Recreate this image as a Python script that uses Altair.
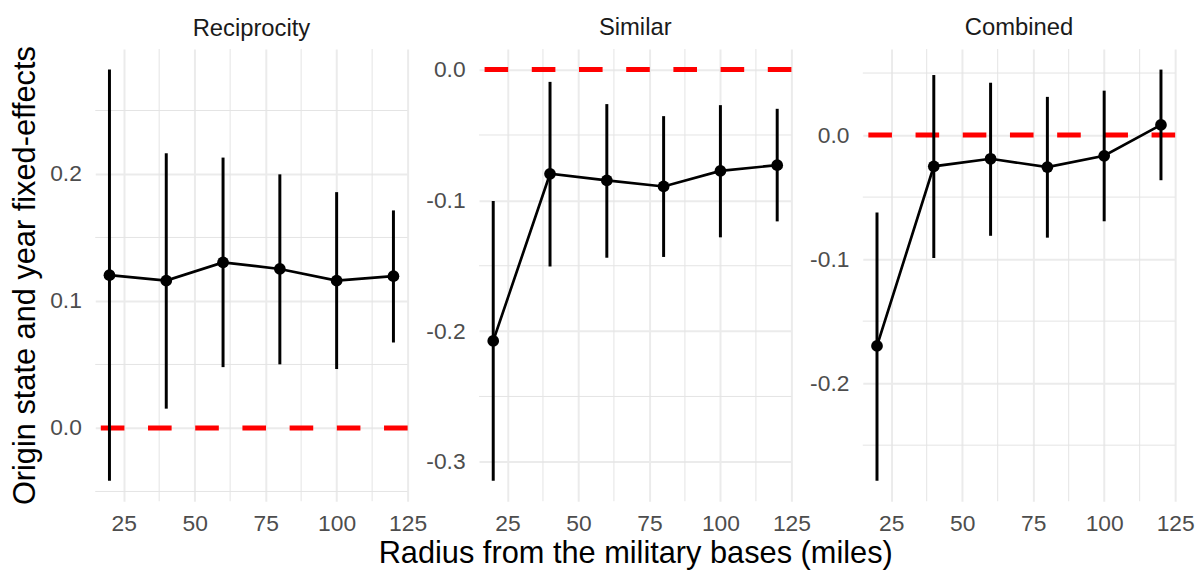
import altair as alt
import pandas as pd

# ---- data ----
radius = [20, 40, 60, 80, 100, 120]

recip_est = [0.1203, 0.1160, 0.1304, 0.1252, 0.1160, 0.1195]
recip_lo = [-0.0415, 0.0152, 0.0479, 0.0501, 0.0464, 0.0673]
recip_hi = [0.2822, 0.2163, 0.2129, 0.1997, 0.1857, 0.1713]

sim_est = [-0.2075, -0.0797, -0.0847, -0.0894, -0.0775, -0.0731]
sim_lo = [-0.3144, -0.1506, -0.1439, -0.1433, -0.1283, -0.1161]
sim_hi = [-0.1006, -0.0094, -0.0264, -0.0356, -0.0272, -0.0300]

comb_est = [-0.1700, -0.0252, -0.0191, -0.0258, -0.0167, 0.0082]
comb_lo = [-0.2786, -0.0991, -0.0812, -0.0827, -0.0695, -0.0364]
comb_hi = [-0.0625, 0.0484, 0.0422, 0.0308, 0.0358, 0.0528]

panel_names = ["Reciprocity", "Similar", "Combined"]

x_ticks = [25, 50, 75, 100, 125]
x_minor = [37.5, 62.5, 87.5, 112.5]

recip_ticks = [0.0, 0.1, 0.2]
recip_minor = [-0.05, 0.05, 0.15, 0.25]
sim_ticks = [-0.3, -0.2, -0.1, 0.0]
sim_minor = [-0.25, -0.15, -0.05]
comb_ticks = [-0.2, -0.1, 0.0]
comb_minor = [-0.25, -0.15, -0.05, 0.05]

ref_line = [0.0]

y_title = "Origin state and year fixed-effects"
x_title = "Radius from the military bases (miles)"

FONT = "Liberation Sans"
GRID = "#EBEBEB"
GRID_MINOR = "#E4E4E4"
PW, PH = 315, 456


def expand(lo, hi, mult=0.05):
    r = hi - lo
    return [lo - mult * r, hi + mult * r]


x_domain = expand(min(radius), max(radius))


def panel(name, est, lo, hi, ticks, minor, show_y_title, show_x_title, title_offset):
    df = pd.DataFrame({"radius": radius, "est": est, "lo": lo, "hi": hi})
    y_domain = expand(min(min(lo), min(ref_line)), max(max(hi), max(ref_line)))

    xs = alt.Scale(domain=x_domain, nice=False, zero=False)
    ys = alt.Scale(domain=y_domain, nice=False, zero=False)

    x_axis = alt.Axis(
        values=x_ticks, grid=True, gridColor=GRID, gridWidth=2,
        ticks=False, domain=False, labelFlush=False, labelOverlap=False,
        labelFontSize=23, labelColor="#4D4D4D", labelFont=FONT, labelPadding=12,
        titleFontSize=31, titleFont=FONT, titleColor="#000000",
        titleFontWeight="normal", titlePadding=3,
    )
    y_kwargs = dict(
        values=ticks, grid=True, gridColor=GRID, gridWidth=2,
        ticks=False, domain=False, labelFlush=False, labelOverlap=False,
        labelFontSize=23, labelColor="#4D4D4D", labelFont=FONT, labelPadding=14,
        labelExpr="replace(format(datum.value, '.1f'), '\u2212', '-')",
        titleFontSize=31, titleFont=FONT, titleColor="#000000",
        titleFontWeight="normal",
    )
    if show_y_title:
        y_kwargs.update(minExtent=46, maxExtent=46, titlePadding=15,
                        titleBaseline="alphabetic")
    else:
        y_kwargs.update(minExtent=58, maxExtent=58)
    y_axis = alt.Axis(**y_kwargs)

    xt = x_title if show_x_title else ""
    yt = y_title if show_y_title else ""

    def X(field):
        return alt.X(field, type="quantitative", scale=xs, axis=x_axis, title=xt)

    def Y(field):
        return alt.Y(field, type="quantitative", scale=ys, axis=y_axis, title=yt)

    minor_x = alt.Chart(pd.DataFrame({"v": x_minor})).mark_rule(
        color=GRID_MINOR, strokeWidth=1).encode(x=X("v"))
    minor_y = alt.Chart(pd.DataFrame({"v": minor})).mark_rule(
        color=GRID_MINOR, strokeWidth=1).encode(y=Y("v"))
    hline = alt.Chart(pd.DataFrame({"v": ref_line})).mark_rule(
        color="#FF0000", strokeWidth=5, strokeDash=[23.8, 23.8]).encode(y=Y("v"))
    bars = alt.Chart(df).mark_rule(color="black", strokeWidth=3).encode(
        x=X("radius"), y=Y("lo"), y2="hi")
    line = alt.Chart(df).mark_line(color="black", strokeWidth=2.7).encode(
        x=X("radius"), y=Y("est"))
    pts = alt.Chart(df).mark_circle(color="black", size=140, opacity=1).encode(
        x=X("radius"), y=Y("est"))

    return alt.layer(minor_x, minor_y, hline, bars, line, pts).properties(
        width=PW, height=PH,
        title=alt.TitleParams(
            text=name, fontSize=24, font=FONT, color="#1A1A1A",
            fontWeight="normal", anchor="middle", baseline="alphabetic",
            offset=title_offset,
        ),
    )


p1 = panel(panel_names[0], recip_est, recip_lo, recip_hi, recip_ticks, recip_minor, True, False, -14)
p2 = panel(panel_names[1], sim_est, sim_lo, sim_hi, sim_ticks, sim_minor, False, True, -10)
p3 = panel(panel_names[2], comb_est, comb_lo, comb_hi, comb_ticks, comb_minor, False, False, -10)

chart = alt.hconcat(p1, p2, p3, spacing=72, bounds="flush").properties(
    padding={"left": 2, "top": 5, "right": 0, "bottom": 0},
    background="white",
).configure_view(stroke=None)

chart.save("out.html", embed_options={"renderer": "svg", "actions": False})
